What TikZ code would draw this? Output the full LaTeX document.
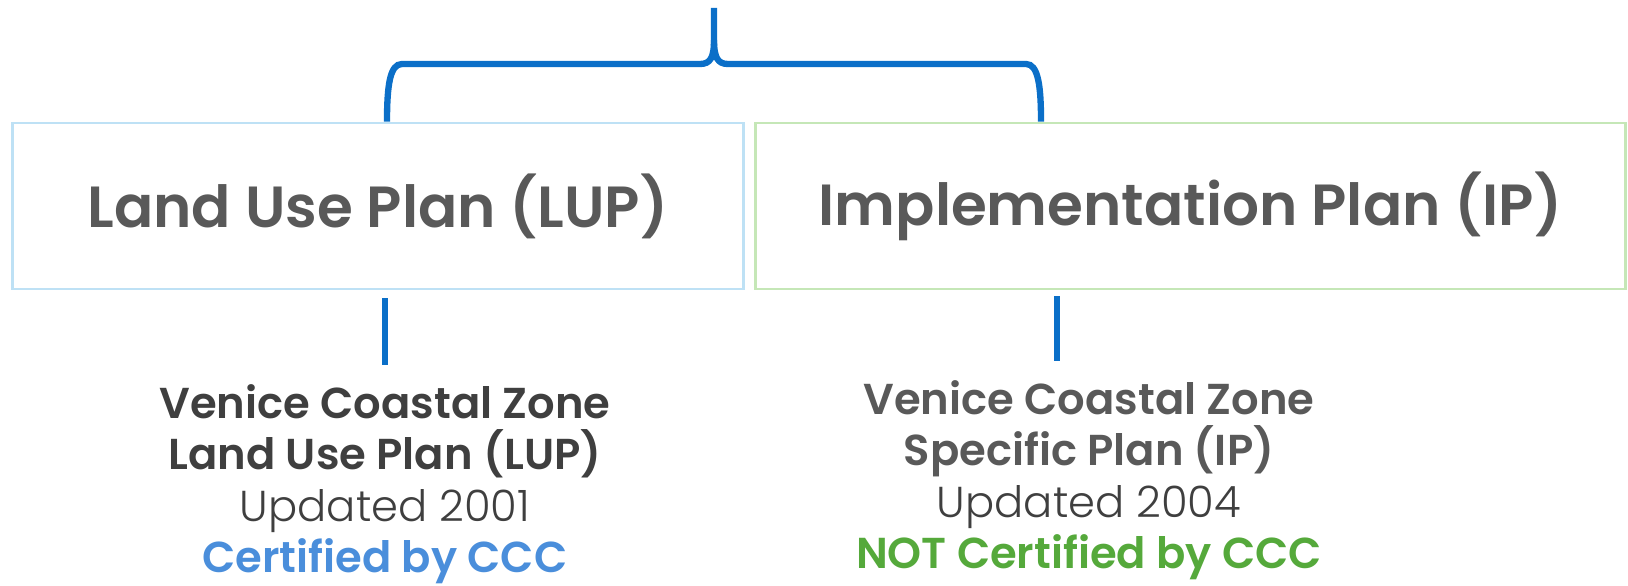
\documentclass[tikz,border=0pt]{standalone}
\usepackage{fontspec}
\setmainfont{Poppins}[BoldFont={Poppins SemiBold}]
\newfontfamily\lightfont{Poppins Light}
\usepackage{xcolor}
\usetikzlibrary{positioning}
\definecolor{titlegray}{HTML}{595959}
\definecolor{infogray}{HTML}{3F3F3F}
\definecolor{bracketblue}{HTML}{0B6FC8}
\definecolor{certblue}{HTML}{4A8EDB}
\definecolor{notgreen}{HTML}{55A93B}
\definecolor{lupedge}{HTML}{BEE1F5}
\definecolor{ipedge}{HTML}{C5E7B7}
\tikzstyle{planbox} = [rectangle, draw, line width=0.8pt, minimum height=1.66cm,
    text=titlegray, font=\fontsize{16.5}{20}\selectfont\bfseries]
\tikzstyle{info} = [align=center, inner sep=0pt,
    font=\fontsize{12.3}{14.6}\selectfont]
\tikzset{
  bracket/.style={draw=bracketblue, line width=1.8pt},
	}

\begin{document}
\begin{tikzpicture}[x=0.01cm, y=-0.01cm]
    \useasboundingbox (0,0) rectangle (1628,585);
    \node[planbox, draw=lupedge, minimum width=7.31cm](lup) at (378,206){Land Use Plan (LUP)};
    \node[planbox, draw=ipedge, minimum width=8.69cm](ip) at (1190.5,206){Implementation Plan (IP)};
    \coordinate (bracetop) at (714,8);
    \coordinate (braceleft) at (387,64);
    \coordinate (braceright) at (1041,64);
    \draw[bracket](lup.north -| braceleft) .. controls (387,85) and (390,64) .. (402,64) -- (700,64)
        .. controls (710,64) and (714,58) .. (714,40) -- (bracetop);
    \draw[bracket](ip.north -| braceright) .. controls (1041,85) and (1038,64) .. (1026,64) -- (728,64)
        .. controls (718,64) and (714,58) .. (714,40);
    \node[info, anchor=north](lupinfo) at (385,384){{\bfseries\color{infogray}Venice Coastal Zone}\\
        {\bfseries\color{infogray}Land Use Plan (LUP)}\\
        {\lightfont\color{infogray}Updated 2001}\\
        {\bfseries\color{certblue}Certified by CCC}};
    \node[info, anchor=north](ipinfo) at (1089,380){{\bfseries\color{titlegray}Venice Coastal Zone}\\
        {\bfseries\color{titlegray}Specific Plan (IP)}\\
        {\lightfont\color{infogray}Updated 2004}\\
        {\bfseries\color{notgreen}NOT Certified by CCC}};
    \coordinate (lupstem) at (385,365);
    \coordinate (ipstem) at (1057,361);
    \draw[bracket, shorten <=0.08cm](lup.south -| lupstem) -- (lupstem);
    \draw[bracket, shorten <=0.06cm](ip.south -| ipstem) -- (ipstem);
  \end{tikzpicture}
\end{document}
